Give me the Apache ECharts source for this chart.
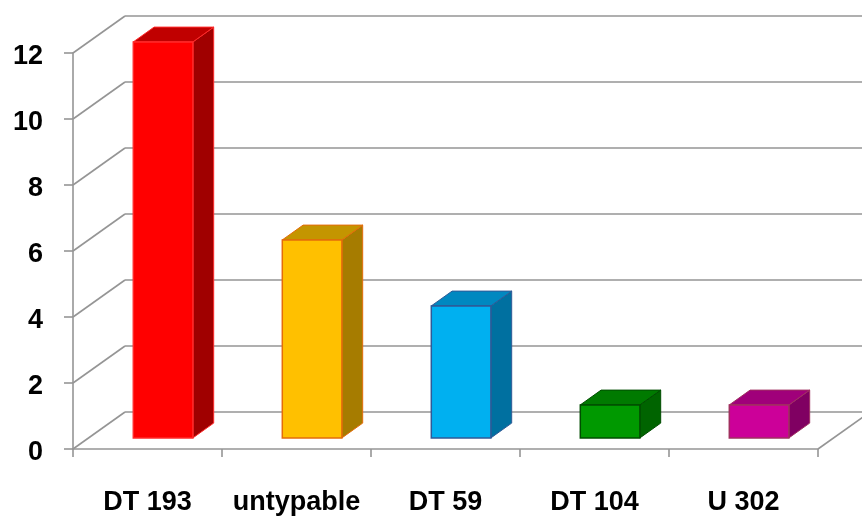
<!DOCTYPE html>
<html><head><meta charset="utf-8">
<script src="https://cdn.jsdelivr.net/npm/echarts@6/dist/echarts.min.js"></script>
<style>html,body{margin:0;background:#fff}#chart{width:862px;height:517px}</style>
</head><body><div id="chart"></div>
<script>
// Isolates by type
const categories = ['DT 193', 'untypable', 'DT 59', 'DT 104', 'U 302'];
const counts = [12, 6, 4, 1, 1];
const yTicks = [0, 2, 4, 6, 8, 10, 12];

// Face colours for each box: front, top, side, outline
const frontColors = ['#ff0000', '#ffc000', '#00b0f0', '#009900', '#cc0099'];
const topColors   = ['#c00000', '#c49500', '#0088c0', '#007a00', '#a0007a'];
const sideColors  = ['#a00000', '#a67c00', '#0070a0', '#006400', '#800062'];
const edgeColors  = ['#ff2a2a', '#e46c0a', '#2f5a97', '#004d00', '#a03060'];

// Perspective depth of the chart box (pixels, x then y)
const DEPTH = [52, -37];
const BAR_WIDTH = 0.4;      // share of a category band
const BAR_DEPTH_FROM = 0.3; // front of the box, share of the depth
const BAR_DEPTH_TO = 0.7;   // back of the box

const GRID_LINE = '#959595';
const LABEL_FONT = 'Liberation Sans, Arial, sans-serif';

const chart = echarts.init(document.getElementById('chart'), null, {renderer: 'canvas'});

const front = {left: 73, right: 44, top: 53, bottom: 68};
const back = {
  left: front.left + DEPTH[0], right: front.right - DEPTH[0],
  top: front.top + DEPTH[1], bottom: front.bottom - DEPTH[1]
};

function bandLeft(api, idx) {
  const p = api.coord([idx, 0]);
  return p[0] - api.size([1, 0])[0] / 2;
}

chart.setOption({
  animation: false,
  backgroundColor: '#ffffff',
  grid: [
    Object.assign({containLabel: false}, front),
    Object.assign({containLabel: false}, back)
  ],
  xAxis: [
    {
      type: 'category', gridIndex: 0, data: categories, boundaryGap: true,
      axisLine: {lineStyle: {color: GRID_LINE, width: 1.6}},
      axisTick: {show: true, length: 8, lineStyle: {color: GRID_LINE, width: 1.6}},
      axisLabel: {color: '#000', fontSize: 27, fontWeight: 'bold', fontFamily: LABEL_FONT,
                  margin: 40, interval: 0, hideOverlap: false}
    },
    {type: 'category', gridIndex: 1, data: categories, show: false}
  ],
  yAxis: [
    {
      type: 'value', gridIndex: 0, min: 0, max: 12, interval: 2,
      axisLine: {show: true, lineStyle: {color: GRID_LINE, width: 1.6}},
      axisTick: {show: true, length: 9, lineStyle: {color: GRID_LINE, width: 1.6}},
      splitLine: {show: false},
      axisLabel: {
        margin: 30,
        formatter: v => yTicks.includes(v) ? '{n|' + v + '}' : '',
        rich: {n: {color: '#000', fontSize: 27, fontWeight: 'bold', fontFamily: LABEL_FONT, padding: [8, 0, 0, 0]}}
      }
    },
    {
      type: 'value', gridIndex: 1, min: 0, max: 12, interval: 2,
      axisLine: {show: false}, axisTick: {show: false}, axisLabel: {show: false},
      splitLine: {show: true, lineStyle: {color: GRID_LINE, width: 1.6}}
    }
  ],
  series: [
    // side wall and floor edges running into depth
    {
      type: 'custom', xAxisIndex: 0, yAxisIndex: 0, clip: false, z: 1,
      data: yTicks.map(v => [0, v]),
      renderItem: function (params, api) {
        const x = bandLeft(api, 0);
        const y = api.coord([0, api.value(1)])[1];
        return {
          type: 'line',
          shape: {x1: x, y1: y, x2: x + DEPTH[0], y2: y + DEPTH[1]},
          style: {stroke: GRID_LINE, lineWidth: 1.6}
        };
      }
    },
    {
      type: 'custom', xAxisIndex: 0, yAxisIndex: 0, clip: false, z: 1,
      data: [[categories.length - 1, 0]],
      renderItem: function (params, api) {
        const p = api.coord([api.value(0), 0]);
        const x = p[0] + api.size([1, 0])[0] / 2;
        return {
          type: 'line',
          shape: {x1: x, y1: p[1], x2: x + DEPTH[0], y2: p[1] + DEPTH[1]},
          style: {stroke: GRID_LINE, lineWidth: 1.6}
        };
      }
    },
    // boxes
    {
      type: 'custom', xAxisIndex: 0, yAxisIndex: 0, clip: false, z: 5,
      encode: {x: 0, y: 1},
      data: counts.map((v, i) => [i, v]),
      renderItem: function (params, api) {
        const i = api.value(0);
        const base = api.coord([i, 0]);
        const top = api.coord([i, api.value(1)]);
        const bw = api.size([1, 0])[0] * BAR_WIDTH;
        const fx = DEPTH[0] * BAR_DEPTH_FROM, fy = DEPTH[1] * BAR_DEPTH_FROM;
        const dx = DEPTH[0] * (BAR_DEPTH_TO - BAR_DEPTH_FROM);
        const dy = DEPTH[1] * (BAR_DEPTH_TO - BAR_DEPTH_FROM);
        const x0 = base[0] - bw / 2 + fx, x1 = x0 + bw;
        const yb = base[1] + fy, yt = top[1] + fy;
        const edge = edgeColors[i];
        return {
          type: 'group',
          children: [
            {type: 'polygon', shape: {points: [[x1, yb], [x1 + dx, yb + dy], [x1 + dx, yt + dy], [x1, yt]]},
             style: {fill: sideColors[i], stroke: edge, lineWidth: 1}},
            {type: 'polygon', shape: {points: [[x0, yt], [x1, yt], [x1 + dx, yt + dy], [x0 + dx, yt + dy]]},
             style: {fill: topColors[i], stroke: edge, lineWidth: 1}},
            {type: 'rect', shape: {x: x0, y: yt, width: bw, height: yb - yt},
             style: {fill: frontColors[i], stroke: edge, lineWidth: 1.5}}
          ]
        };
      }
    }
  ]
});
</script>
</body></html>
